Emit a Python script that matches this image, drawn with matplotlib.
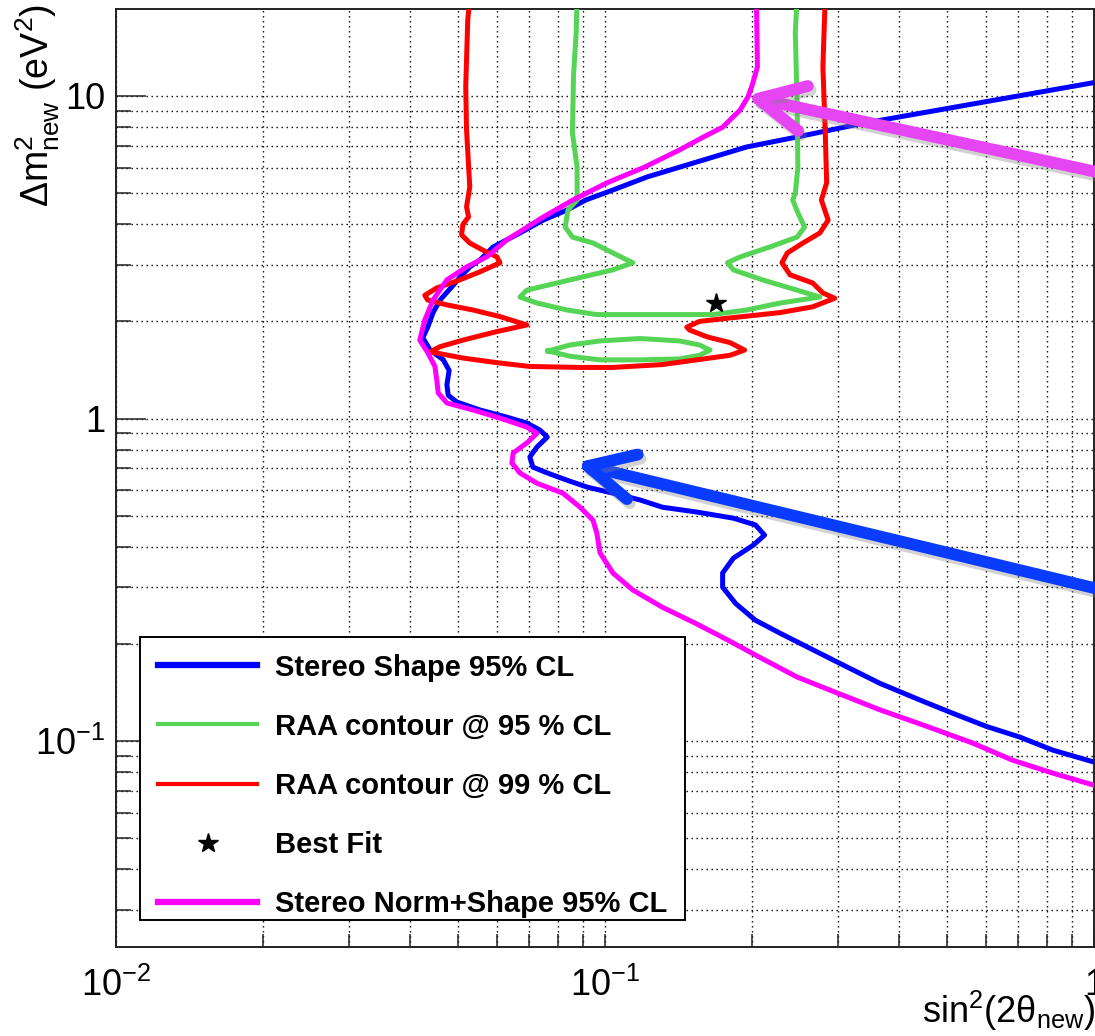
import matplotlib
matplotlib.use('Agg')
import matplotlib.pyplot as plt
import matplotlib.patheffects as pe
from matplotlib.lines import Line2D
from matplotlib.patches import Rectangle
from matplotlib.ticker import FixedLocator, FixedFormatter, LogLocator, NullFormatter
import numpy as np

plt.rcParams['font.family'] = ['Liberation Sans', 'DejaVu Sans']
plt.rcParams['mathtext.fontset'] = 'custom'
plt.rcParams['mathtext.rm'] = 'Liberation Sans'
plt.rcParams['mathtext.it'] = 'Liberation Sans:italic'
plt.rcParams['mathtext.bf'] = 'Liberation Sans:bold'

# Stereo shape-only exclusion (95% CL)
blue_x = [1.0, 0.332, 0.247, 0.195, 0.154, 0.122, 0.1038, 0.0914, 0.0836, 0.0747,
          0.0670, 0.0590, 0.0555, 0.0529, 0.0505, 0.0486, 0.0460, 0.0445, 0.0434, 0.0424,
          0.0439, 0.0467, 0.0480, 0.0475, 0.0478, 0.0498, 0.0555, 0.0630, 0.0692, 0.0736,
          0.0762, 0.0726, 0.0702, 0.0712, 0.0762, 0.0836, 0.0919, 0.1038, 0.118, 0.131,
          0.154, 0.183, 0.203, 0.212, 0.201, 0.183, 0.174, 0.174, 0.185, 0.203,
          0.228, 0.266, 0.312, 0.365, 0.441, 0.514, 0.603, 0.704, 0.823, 1.0]
blue_y = [11.0, 8.19, 7.46, 6.95, 6.24, 5.61, 5.11, 4.76, 4.43, 4.12,
          3.76, 3.40, 3.10, 2.95, 2.74, 2.56, 2.33, 2.13, 1.92, 1.78,
          1.63, 1.52, 1.41, 1.27, 1.18, 1.125, 1.063, 1.01, 0.968, 0.921,
          0.876, 0.816, 0.760, 0.707, 0.678, 0.644, 0.613, 0.587, 0.559, 0.531,
          0.513, 0.491, 0.468, 0.435, 0.405, 0.369, 0.332, 0.300, 0.267, 0.237,
          0.216, 0.192, 0.170, 0.151, 0.134, 0.122, 0.111, 0.103, 0.0938, 0.0861]

# RAA contour 95% CL (open region + small island)
green_x = [0.0877, 0.0873, 0.0862, 0.0858, 0.0877, 0.0877, 0.0840, 0.0829, 0.0858, 0.0945,
           0.1038, 0.114, 0.1038, 0.0848, 0.0692, 0.0670, 0.0726, 0.0836, 0.0962, 0.1236,
           0.166, 0.195, 0.228, 0.275, 0.247, 0.210, 0.183, 0.178, 0.189, 0.217,
           0.247, 0.256, 0.248, 0.242, 0.245, 0.248, 0.247, 0.245, 0.247]
green_y = [20, 15.7, 11.5, 7.68, 6.0, 4.76, 4.43, 3.92, 3.65, 3.50,
           3.26, 3.04, 2.89, 2.69, 2.50, 2.38, 2.28, 2.17, 2.10, 2.10,
           2.10, 2.17, 2.28, 2.38, 2.50, 2.69, 2.89, 3.04, 3.17, 3.40,
           3.65, 3.92, 4.34, 4.76, 5.0, 6.0, 9.72, 15.7, 20]
island_x = [0.0765, 0.0848, 0.0976, 0.118, 0.142, 0.156, 0.164, 0.156, 0.142, 0.118, 0.0976, 0.0848, 0.0765]
island_y = [1.62, 1.69, 1.74, 1.77, 1.74, 1.69, 1.63, 1.57, 1.53, 1.52, 1.52, 1.56, 1.62]

# RAA contour 99% CL
red_x = [0.0529, 0.0524, 0.0519, 0.0521, 0.0529, 0.0521, 0.0526, 0.0512, 0.0509, 0.0529,
         0.0562, 0.0601, 0.0610, 0.0555, 0.0505, 0.0453, 0.0428, 0.0434, 0.0475, 0.0537,
         0.0610, 0.0692, 0.0601, 0.0512, 0.0460, 0.0439, 0.0512, 0.0601, 0.0702, 0.0889,
         0.1038, 0.131, 0.154, 0.180, 0.193, 0.180, 0.162, 0.149, 0.147, 0.156,
         0.180, 0.228, 0.266, 0.295, 0.279, 0.266, 0.239, 0.230, 0.236, 0.254,
         0.275, 0.286, 0.277, 0.284, 0.282, 0.279, 0.282]
red_y = [20, 17.2, 10.7, 7.85, 5.22, 4.53, 4.22, 3.99, 3.71, 3.50,
         3.33, 3.17, 3.04, 2.85, 2.69, 2.54, 2.41, 2.33, 2.25, 2.17,
         2.07, 1.95, 1.86, 1.75, 1.67, 1.61, 1.54, 1.49, 1.45, 1.44,
         1.44, 1.47, 1.52, 1.57, 1.63, 1.72, 1.79, 1.88, 1.92, 2.00,
         2.05, 2.13, 2.22, 2.36, 2.45, 2.63, 2.79, 3.04, 3.26, 3.50,
         3.76, 4.12, 4.76, 5.38, 7.85, 12.3, 20]

best_fit = (0.169, 2.28)

# Stereo norm+shape exclusion (95% CL)
mag_x = [0.204, 0.205, 0.200, 0.196, 0.189, 0.174, 0.159, 0.142, 0.120, 0.101,
         0.0860, 0.0747, 0.0630, 0.0573, 0.0521, 0.0475, 0.0445, 0.0428, 0.0418, 0.0434,
         0.0449, 0.0453, 0.0456, 0.0475, 0.0537, 0.0601, 0.0692, 0.0726, 0.0692, 0.0649,
         0.0645, 0.0670, 0.0726, 0.0820, 0.0889, 0.0945, 0.0962, 0.0977, 0.1038, 0.114,
         0.131, 0.153, 0.178, 0.207, 0.247, 0.302, 0.365, 0.456, 0.565, 0.681,
         0.823, 1.0]
mag_y = [20, 12.3, 10.8, 9.93, 9.05, 8.0, 7.46, 6.80, 6.0, 5.38,
         4.76, 4.21, 3.58, 3.17, 2.95, 2.69, 2.33, 2.02, 1.75, 1.60,
         1.45, 1.31, 1.20, 1.117, 1.063, 1.01, 0.941, 0.90, 0.840, 0.782,
         0.728, 0.678, 0.630, 0.587, 0.531, 0.484, 0.442, 0.383, 0.332, 0.294,
         0.260, 0.232, 0.206, 0.182, 0.158, 0.140, 0.125, 0.111, 0.0986, 0.0873,
         0.0796, 0.0730]

x_ticks = [0.01, 0.1, 1.0]
x_ticklabels = [r'$10^{-2}$', r'$10^{-1}$', '1']
y_ticks = [0.1, 1.0, 10.0]
y_ticklabels = [r'$10^{-1}$', '1', '10']

labels = ['Stereo Shape 95% CL', 'RAA contour @ 95 % CL', 'RAA contour @ 99 % CL',
          'Best Fit', 'Stereo Norm+Shape 95% CL']

GREEN = '#55d455'

fig = plt.figure(figsize=(10.95, 10.36), dpi=100)
ax = fig.add_axes([116 / 1095, 89 / 1036, 978 / 1095, 938 / 1036])
ax.set_xscale('log')
ax.set_yscale('log')

lw = 3.6
ax.plot(blue_x, blue_y, color='blue', lw=lw, solid_joinstyle='round', zorder=3)
ax.plot(green_x, green_y, color=GREEN, lw=lw, solid_joinstyle='round', zorder=3)
ax.plot(island_x, island_y, color=GREEN, lw=lw, solid_joinstyle='round', zorder=3)
ax.plot(red_x, red_y, color='red', lw=lw, solid_joinstyle='round', zorder=3)
ax.plot([best_fit[0]], [best_fit[1]], marker='*', color='black', ms=15, ls='none', zorder=4)
ax.plot(mag_x, mag_y, color='magenta', lw=lw, solid_joinstyle='round', zorder=3)

ax.set_xlim(0.01, 1.0)
ax.set_ylim(0.0230, 18.6)

# ROOT-like ticks and dotted grid on every tick
ax.xaxis.set_major_locator(FixedLocator(x_ticks))
ax.xaxis.set_major_formatter(FixedFormatter(x_ticklabels))
ax.yaxis.set_major_locator(FixedLocator(y_ticks))
ax.yaxis.set_major_formatter(FixedFormatter(y_ticklabels))
ax.xaxis.set_minor_locator(LogLocator(base=10, subs=np.arange(2, 10)))
ax.yaxis.set_minor_locator(LogLocator(base=10, subs=np.arange(2, 10)))
ax.xaxis.set_minor_formatter(NullFormatter())
ax.yaxis.set_minor_formatter(NullFormatter())

ax.tick_params(axis='both', which='both', direction='in', top=False, right=False,
               width=1.1, color='#222222', labelsize=26)
ax.tick_params(axis='y', which='major', length=21.5, pad=8)
ax.tick_params(axis='y', which='minor', length=10.8)
ax.tick_params(axis='x', which='both', length=9.5, pad=15)

ax.grid(True, which='both', color='black', linestyle=(0, (1, 2.6)), linewidth=1.0)
ax.set_axisbelow(True)
for s in ax.spines.values():
    s.set_linewidth(1.4)
    s.set_color('#222222')

fig.text(38 / 1095, 1 - 4 / 1036, r'Δm$^{2}_{\mathrm{new}}$ (eV$^{2}$)',
         rotation=90, ha='center', va='top', fontsize=27)
fig.text(1.0, 13 / 1036, r'sin$^{2}$(2θ$_{\mathrm{new}}$)',
         ha='right', va='baseline', fontsize=26)

# legend: white box drawn separately so the entries can sit where ROOT put them
ax.add_patch(Rectangle((0.0245, 0.0288), 0.5575, 0.3015, transform=ax.transAxes,
                       facecolor='white', edgecolor='black', lw=1.4, zorder=9))
handles = [
    Line2D([], [], color='blue', lw=4.5),
    Line2D([], [], color=GREEN, lw=3.0),
    Line2D([], [], color='red', lw=3.0),
    Line2D([], [], color='black', marker='*', ls='none', ms=15),
    Line2D([], [], color='magenta', lw=4.5),
]
leg = ax.legend(handles, labels, loc='upper left', bbox_to_anchor=(0.0429, 0.3128),
                borderaxespad=0, borderpad=0, frameon=False,
                prop={'weight': 'bold', 'size': 21}, handlelength=3.4, handletextpad=0.6,
                labelspacing=1.066)
leg.set_zorder(10)

# arrows pointing at the two Stereo curves
shadow = [pe.SimpleLineShadow(offset=(2, -3), shadow_color='gray', alpha=0.35), pe.Normal()]
ax.annotate('', xy=(0.1936, 10.0), xytext=(1.08, 5.69), xycoords='data', textcoords='data',
            annotation_clip=False, zorder=12,
            arrowprops=dict(arrowstyle='->,head_length=33,head_width=16.5', mutation_scale=1,
                            lw=8.5, color='#e545f2', capstyle='round', joinstyle='round',
                            shrinkA=0, shrinkB=0, path_effects=shadow))
ax.annotate('', xy=(0.0868, 0.728), xytext=(1.08, 0.29), xycoords='data', textcoords='data',
            annotation_clip=False, zorder=12,
            arrowprops=dict(arrowstyle='->,head_length=33,head_width=16.5', mutation_scale=1,
                            lw=8.5, color='#0a3cff', capstyle='round', joinstyle='round',
                            shrinkA=0, shrinkB=0, path_effects=shadow))

plt.savefig('out.png', dpi=100)
